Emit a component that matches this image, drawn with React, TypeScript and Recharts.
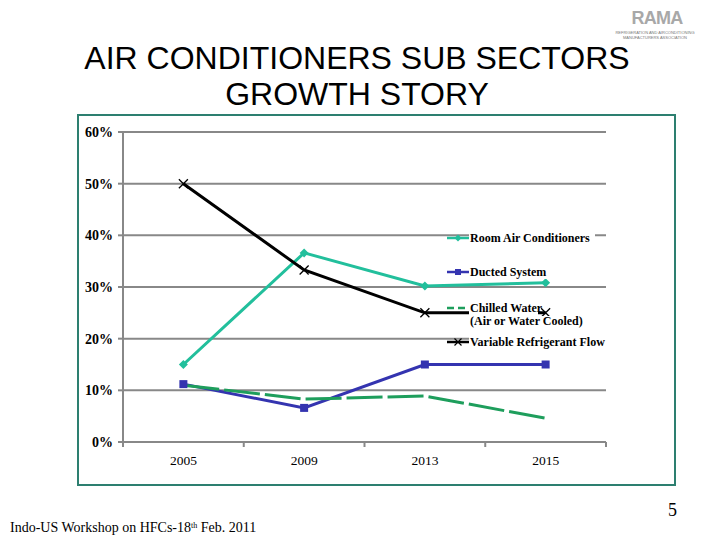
import React from 'react';
import { LineChart, Line, XAxis, YAxis, CartesianGrid, Legend } from 'recharts';

const years = ['2005', '2009', '2013', '2015'];
const roomAC = [15, 36.6, 30.2, 30.8];
const ducted = [11.2, 6.6, 15, 15];
const chilled = [11, 8.3, 8.9, 4.6];
const vrf = [50, 33.3, 25, 25];
const yTicks = [0, 10, 20, 30, 40, 50, 60];

const seriesNames = {
  roomAC: 'Room Air Conditioners',
  ducted: 'Ducted System',
  chilled: 'Chilled Water',
  chilled2: '(Air or Water Cooled)',
  vrf: 'Variable Refrigerant Flow',
};

const data = years.map((y, i) => ({
  year: y,
  roomAC: roomAC[i],
  ducted: ducted[i],
  chilled: chilled[i],
  vrf: vrf[i],
}));

const W = 720;
const H = 540;
const M = { top: 132, right: 114, bottom: 68, left: 63 };
const YW = 60;
const PLOT_W = W - M.left - YW - M.right;
const BW = PLOT_W / years.length;

const TEAL = '#22bf9c';
const BLUE = '#3434b0';
const GREEN = '#1e9e5c';
const GRID = '#888888';
const SERIF = 'Liberation Serif, DejaVu Serif, serif';
const SANS = 'Liberation Sans, Arial, Helvetica, sans-serif';

const Diamond = (props: any) => {
  const { cx, cy, index } = props;
  if (cx == null || cy == null) return <g key={'d' + index} />;
  const s = 4.5;
  return <path key={'d' + index} d={`M${cx},${cy - s}L${cx + s},${cy}L${cx},${cy + s}L${cx - s},${cy}Z`} fill={TEAL} />;
};
const Square = (props: any) => {
  const { cx, cy, index } = props;
  if (cx == null || cy == null) return <g key={'s' + index} />;
  return <rect key={'s' + index} x={cx - 4} y={cy - 4} width={8} height={8} fill={BLUE} />;
};
const Cross = (props: any) => {
  const { cx, cy, index } = props;
  if (cx == null || cy == null) return <g key={'x' + index} />;
  const s = 4.5;
  return (
    <path key={'x' + index} d={`M${cx - s},${cy - s}L${cx + s},${cy + s}M${cx - s},${cy + s}L${cx + s},${cy - s}`} stroke="#000" strokeWidth={1.3} fill="none" />
  );
};

const XTick = (props: any) => {
  const { x, y, payload, index } = props;
  const last = index === years.length - 1;
  return (
    <g>
      <line x1={x - BW / 2} x2={x - BW / 2} y1={y} y2={y + 5} stroke={GRID} strokeWidth={2} />
      {last && <line x1={x + BW / 2} x2={x + BW / 2} y1={y} y2={y + 5} stroke={GRID} strokeWidth={2} />}
      <text x={x} y={y + 23} textAnchor="middle" style={{ fontFamily: SERIF }} fontSize={13.5} fill="#000">
        {payload.value}
      </text>
    </g>
  );
};

const LegendBox = () => {
  const tx = 30;
  const txt = { fontSize: 12, fontWeight: 700, fill: '#000', style: { fontFamily: SERIF } } as const;
  return (
    <svg width={175} height={130} style={{ display: 'block', overflow: 'visible' }}>
      <rect x={29} y={6} width={126} height={14} fill="#fff" />
      <line x1={7} x2={29} y1={13} y2={13} stroke={TEAL} strokeWidth={2.5} />
      <path d="M18,9.5L21.5,13L18,16.5L14.5,13Z" fill={TEAL} />
      <text x={tx} y={17} {...txt}>{seriesNames.roomAC}</text>

      <rect x={29} y={40} width={84} height={14} fill="#fff" />
      <line x1={7} x2={29} y1={47} y2={47} stroke={BLUE} strokeWidth={2.5} />
      <rect x={15} y={44} width={6} height={6} fill={BLUE} />
      <text x={tx} y={51} {...txt}>{seriesNames.ducted}</text>

      <rect x={29} y={76} width={69} height={15} fill="#fff" />
      <rect x={29} y={91} width={122} height={13} fill="#fff" />
      <line x1={7} x2={29} y1={83} y2={83} stroke={GREEN} strokeWidth={2.5} strokeDasharray="7 4" />
      <text x={tx} y={87} {...txt}>{seriesNames.chilled}</text>
      <text x={tx} y={100} {...txt}>{seriesNames.chilled2}</text>

      <rect x={29} y={110} width={138} height={14} fill="#fff" />
      <line x1={7} x2={29} y1={117} y2={117} stroke="#000" strokeWidth={2.5} />
      <path d="M14.5,113.5L21.5,120.5M14.5,120.5L21.5,113.5" stroke="#000" strokeWidth={1.2} />
      <text x={tx} y={121} {...txt}>{seriesNames.vrf}</text>
    </svg>
  );
};

export default function App() {
  return (
    <div style={{ position: 'absolute', left: 0, top: 0, width: W, height: H, background: '#fff', overflow: 'hidden' }}>
      <div
        style={{
          position: 'absolute',
          left: 0,
          top: 40,
          width: 714,
          textAlign: 'center',
          fontFamily: SANS,
          fontSize: 32,
          lineHeight: '36px',
          color: '#000',
        }}
      >
        AIR CONDITIONERS SUB SECTORS
        <br />
        GROWTH STORY
      </div>

      <div style={{ position: 'absolute', left: 627, top: 8, width: 60, textAlign: 'center', fontFamily: SANS, fontWeight: 700, fontSize: 18, color: '#a8a8a8', lineHeight: '20px', letterSpacing: '-0.7px' }}>
        RAMA
      </div>
      <div style={{ position: 'absolute', left: 610, top: 30, width: 90, textAlign: 'center', fontFamily: SANS, fontSize: 4, lineHeight: '5px', color: '#777' }}>
        REFRIGERATION AND AIRCONDITIONING
        <br />
        MANUFACTURERS ASSOCIATION
      </div>

      <div style={{ position: 'absolute', left: 77, top: 114, width: 595, height: 368, border: '2px solid #2d7f70' }} />

      <div style={{ position: 'absolute', left: 0, top: 0 }}>
        <LineChart width={W} height={H} data={data} margin={M}>
          <CartesianGrid vertical={false} horizontal stroke={GRID} strokeWidth={2} />
          <XAxis
            dataKey="year"
            axisLine={{ stroke: GRID, strokeWidth: 2 }}
            tickLine={false}
            tickSize={0}
            tickMargin={0}
            height={30}
            tick={<XTick />}
            interval={0}
            padding={{ left: BW / 2, right: BW / 2 }}
          />
          <YAxis
            width={YW}
            domain={[0, 60]}
            ticks={yTicks}
            tickFormatter={(v: number) => `${v}%`}
            axisLine={{ stroke: GRID, strokeWidth: 2 }}
            tickLine={{ stroke: GRID, strokeWidth: 2 }}
            tickSize={5}
            tickMargin={5}
            tick={{ fontSize: 14, fontWeight: 700, fill: '#000', style: { fontFamily: SERIF } }}
          />
          <Line dataKey="roomAC" name={seriesNames.roomAC} stroke={TEAL} strokeWidth={3} dot={Diamond} activeDot={false} isAnimationActive={false} />
          <Line dataKey="ducted" name={seriesNames.ducted} stroke={BLUE} strokeWidth={3} dot={Square} activeDot={false} isAnimationActive={false} />
          <Line dataKey="chilled" name={seriesNames.chilled} stroke={GREEN} strokeWidth={3} strokeDasharray="36 5" dot={false} activeDot={false} isAnimationActive={false} />
          <Line dataKey="vrf" name={seriesNames.vrf} stroke="#000" strokeWidth={3} dot={Cross} activeDot={false} isAnimationActive={false} />
          <Legend
            layout="vertical"
            verticalAlign="middle"
            align="center"
            content={<LegendBox />}
            wrapperStyle={{ left: 440, top: 225, width: 175, height: 130 }}
          />
        </LineChart>
      </div>

      <div style={{ position: 'absolute', left: 668, top: 500, fontFamily: SERIF, fontSize: 18, lineHeight: '20px', color: '#000' }}>5</div>
      <div style={{ position: 'absolute', left: 10, top: 520, fontFamily: SERIF, fontSize: 14, lineHeight: '16px', color: '#000', whiteSpace: 'nowrap' }}>
        Indo-US Workshop on HFCs-18<sup style={{ fontSize: 8, verticalAlign: 'top', lineHeight: '8px', position: 'relative', top: 2 }}>th</sup> Feb. 2011
      </div>
    </div>
  );
}
